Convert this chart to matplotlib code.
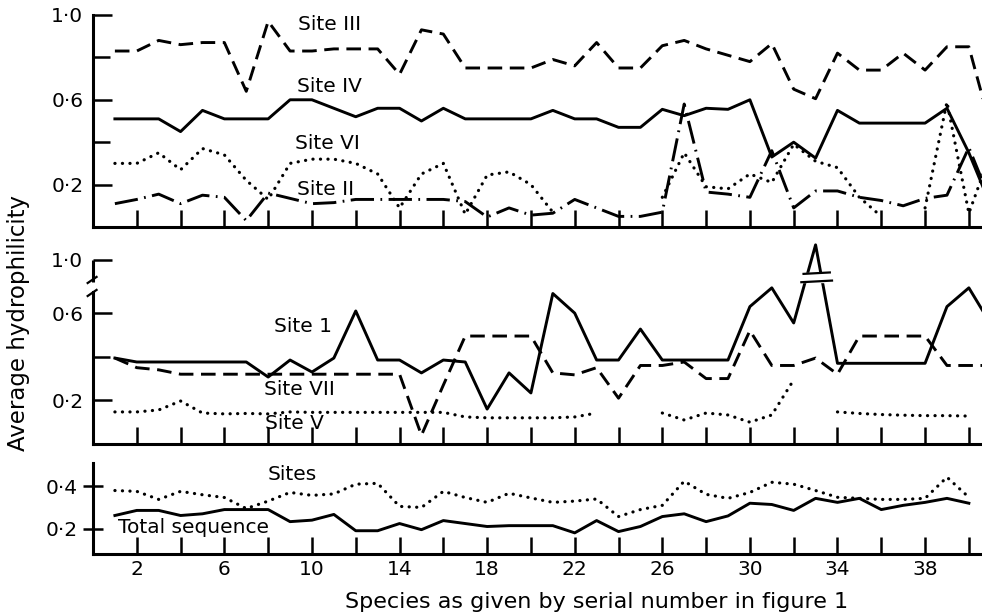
import numpy as np
import matplotlib.pyplot as plt
from matplotlib.ticker import FuncFormatter
from matplotlib.scale import FuncScale
from matplotlib.transforms import blended_transform_factory

nan = np.nan

# species serial numbers (41 = continuation past the cropped right edge)
species = np.arange(1, 42)
species_b = np.arange(1, 41)

# top panel
site_iii = [0.83, 0.83, 0.88, 0.86, 0.87, 0.87, 0.64, 0.97, 0.83, 0.83,
            0.84, 0.84, 0.84, 0.72, 0.93, 0.91, 0.75, 0.75, 0.75, 0.75,
            0.79, 0.76, 0.87, 0.75, 0.75, 0.855, 0.88, 0.84, 0.81, 0.78,
            0.865, 0.65, 0.605, 0.82, 0.74, 0.74, 0.82, 0.74, 0.85, 0.85, 0.47]
site_iv = [0.51, 0.51, 0.51, 0.45, 0.55, 0.51, 0.51, 0.51, 0.60, 0.60,
           0.56, 0.52, 0.56, 0.56, 0.50, 0.56, 0.51, 0.51, 0.51, 0.51,
           0.55, 0.51, 0.51, 0.47, 0.47, 0.555, 0.525, 0.56, 0.555, 0.60,
           0.33, 0.40, 0.325, 0.55, 0.49, 0.49, 0.49, 0.49, 0.56, 0.35, 0.10]
site_vi = [0.30, 0.30, 0.35, 0.27, 0.37, 0.34, 0.22, 0.13, 0.30, 0.32,
           0.32, 0.30, 0.25, 0.09, 0.25, 0.30, 0.06, 0.245, 0.26, 0.20,
           0.07, nan, nan, nan, nan, 0.14, 0.35, 0.19, 0.18, 0.25,
           0.21, 0.39, 0.31, 0.28, 0.14, 0.05, nan, 0.09, 0.59, 0.065, 0.35]
site_ii = [0.11, 0.13, 0.155, 0.11, 0.15, 0.14, 0.03, 0.16, 0.135, 0.11,
           0.115, 0.13, 0.13, 0.13, 0.13, 0.13, 0.12, 0.047, 0.09, 0.056,
           0.065, 0.13, 0.09, 0.05, 0.05, 0.07, 0.58, 0.165, 0.155, 0.14,
           0.36, 0.09, 0.17, 0.17, 0.14, 0.125, 0.10, 0.135, 0.15, 0.375, 0.12]

# middle panel
site_1 = [0.394, 0.376, 0.376, 0.376, 0.376, 0.376, 0.376, 0.307, 0.385, 0.33,
          0.394, 0.61, 0.385, 0.385, 0.326, 0.385, 0.376, 0.16, 0.326, 0.234,
          0.69, 0.60, 0.385, 0.385, 0.527, 0.385, 0.385, 0.385, 0.385, 0.63,
          0.716, 0.555, 1.156, 0.37, 0.37, 0.37, 0.37, 0.37, 0.63, 0.716, 0.55]
site_vii = [0.394, 0.35, 0.34, 0.32, 0.32, 0.32, 0.32, 0.32, 0.32, 0.32,
            0.32, 0.32, 0.32, 0.32, 0.04, 0.27, 0.495, 0.495, 0.495, 0.495,
            0.326, 0.317, 0.35, 0.21, 0.36, 0.36, 0.376, 0.30, 0.30, 0.52,
            0.36, 0.36, 0.394, 0.32, 0.495, 0.495, 0.495, 0.495, 0.36, 0.36, 0.36]
site_v = [0.147, 0.147, 0.156, 0.197, 0.142, 0.138, 0.14, 0.138, 0.147, 0.145,
          0.145, 0.145, 0.145, 0.145, 0.145, 0.145, 0.124, 0.12, 0.12, 0.12,
          0.12, 0.124, 0.142, nan, nan, 0.142, 0.11, 0.142, 0.133, 0.10,
          0.133, 0.294, nan, 0.147, 0.14, 0.135, 0.132, 0.13, 0.13, 0.128, nan]

# bottom panel
total_seq = [0.262, 0.286, 0.286, 0.262, 0.27, 0.29, 0.29, 0.29, 0.233, 0.24,
             0.267, 0.19, 0.19, 0.224, 0.195, 0.238, 0.224, 0.21, 0.214, 0.214,
             0.214, 0.18, 0.238, 0.186, 0.21, 0.257, 0.27, 0.233, 0.26, 0.32,
             0.314, 0.286, 0.343, 0.324, 0.343, 0.29, 0.31, 0.324, 0.343, 0.32]
sites = [0.38, 0.376, 0.338, 0.376, 0.36, 0.347, 0.295, 0.33, 0.371, 0.357,
         0.364, 0.41, 0.414, 0.305, 0.30, 0.376, 0.347, 0.324, 0.367, 0.345,
         0.324, 0.33, 0.34, 0.257, 0.29, 0.31, 0.424, 0.362, 0.343, 0.371,
         0.419, 0.41, 0.38, 0.348, 0.343, 0.338, 0.338, 0.343, 0.443, 0.348]

plt.rcParams['font.family'] = ['DejaVu Sans']
plt.rcParams['font.size'] = 14.5

SOLID = dict(color='k', lw=2.1, ls='-')
DASH = dict(color='k', lw=2.1, ls=(0, (5, 2.6)))
DOT = dict(color='k', lw=2.3, ls=(0, (0.05, 2.3)), dash_capstyle='round')
DASHDOT = dict(color='k', lw=2.1, ls=(0, (8, 2.2, 0.6, 2.2)))

# compressed scale above the axis break in the middle panel
BRK, K = 0.72, 0.443


def fwd(y):
    y = np.asarray(y, float)
    return np.where(y <= BRK, y, BRK + (y - BRK) * K)


def inv(s):
    s = np.asarray(s, float)
    return np.where(s <= BRK, s, BRK + (s - BRK) / K)


def dotfmt(v, pos):
    return ('%.1f' % v).replace('.', '\u00b7')


def xfmt(v, pos):
    return '%d' % v if int(round(v - 2)) % 4 == 0 else ''


fig = plt.figure(figsize=(9.82, 6.14), dpi=100)
L, W = 0.0947, 0.9053
ax1 = fig.add_axes([L, 0.6303, W, 0.3453])
ax2 = fig.add_axes([L, 0.2769, W, 0.3306])
ax3 = fig.add_axes([L, 0.0977, W, 0.1482])

ax2.set_yscale(FuncScale(ax2, (fwd, inv)))

for ax in (ax1, ax2, ax3):
    ax.set_xlim(0, 40.6)
    for s in ('top', 'right'):
        ax.spines[s].set_visible(False)
    for s in ('left', 'bottom'):
        ax.spines[s].set_linewidth(2.2)
    ax.set_xticks(np.arange(2, 41, 2))
    ax.xaxis.set_major_formatter(FuncFormatter(xfmt))
    ax.tick_params(axis='x', direction='in', length=12, width=1.8, pad=4)
    ax.yaxis.set_major_formatter(FuncFormatter(dotfmt))
    ax.tick_params(axis='y', which='major', direction='in', length=14, width=1.8, pad=7)
    ax.tick_params(axis='y', which='minor', direction='in', length=12, width=1.8)

ax1.tick_params(labelbottom=False)
ax2.tick_params(labelbottom=False)

# top panel
ax1.plot(species, site_iii, **DASH)
ax1.plot(species, site_iv, **SOLID)
ax1.plot(species, site_vi, **DOT)
ax1.plot(species, site_ii, **DASHDOT)
ax1.set_ylim(0, 1.0)
ax1.set_yticks([0.2, 0.6, 1.0])
ax1.set_yticks([0.4, 0.8], minor=True)
ax1.text(10.8, 0.953, 'Site III', ha='center', va='center')
ax1.text(10.8, 0.665, 'Site IV', ha='center', va='center')
ax1.text(10.7, 0.396, 'Site VI', ha='center', va='center')
ax1.text(10.6, 0.175, 'Site II', ha='center', va='center')

# middle panel
ax2.plot(species, site_1, **SOLID)
ax2.plot(species, site_vii, **DASH)
ax2.plot(species, site_v, **DOT)
ax2.set_ylim(0, 1.196)
ax2.set_yticks([0.2, 0.6, 1.0])
ax2.set_yticks([0.4], minor=True)
ax2.yaxis.set_major_formatter(FuncFormatter(dotfmt))
ax2.yaxis.set_minor_formatter(FuncFormatter(lambda v, p: ''))
ax2.spines['left'].set_bounds(0, 0.697)
tr = blended_transform_factory(ax2.transAxes, ax2.transData)
ax2.plot([0, 0], [0.772, 1.0], transform=tr, color='k', lw=2.2,
         clip_on=False, solid_capstyle='butt')
ta = ax2.transAxes
for f in (0.808, 0.744):
    ax2.plot([-0.006, 0.004], [f - 0.015, f + 0.015], transform=ta,
             color='k', lw=1.6, clip_on=False)
# break marks on the Site 1 peak
tb = blended_transform_factory(ax2.transData, ax2.transAxes)
ax2.fill_between([32.35, 33.85], 0.80, 0.84, transform=tb, color='white', zorder=3)
ax2.plot([32.45, 33.65], [0.838, 0.845], transform=tb, color='k', lw=1.6, zorder=4)
ax2.plot([32.35, 33.75], [0.797, 0.805], transform=tb, color='k', lw=1.6, zorder=4)
ax2.text(9.6, 0.541, 'Site 1', ha='center', va='center')
ax2.text(9.45, 0.248, 'Site VII', ha='center', va='center')
ax2.text(9.2, 0.092, 'Site V', ha='center', va='center')

# bottom panel
ax3.plot(species_b, sites, **DOT)
ax3.plot(species_b, total_seq, **SOLID)
ax3.set_ylim(0.08, 0.51)
ax3.set_yticks([0.2, 0.4])
ax3.tick_params(axis='y', which='major', direction='inout', length=14, pad=4)
ax3.text(9.1, 0.458, 'Sites', ha='center', va='center')
ax3.text(4.57, 0.203, 'Total sequence', ha='center', va='center')

fig.text(0.019, 0.474, 'Average hydrophilicity', rotation=90,
         ha='center', va='center', fontsize=16.5)
fig.text(0.607, 0.0195, 'Species as given by serial number in figure 1',
         ha='center', va='center', fontsize=16)

fig.savefig('out.png', dpi=100)
